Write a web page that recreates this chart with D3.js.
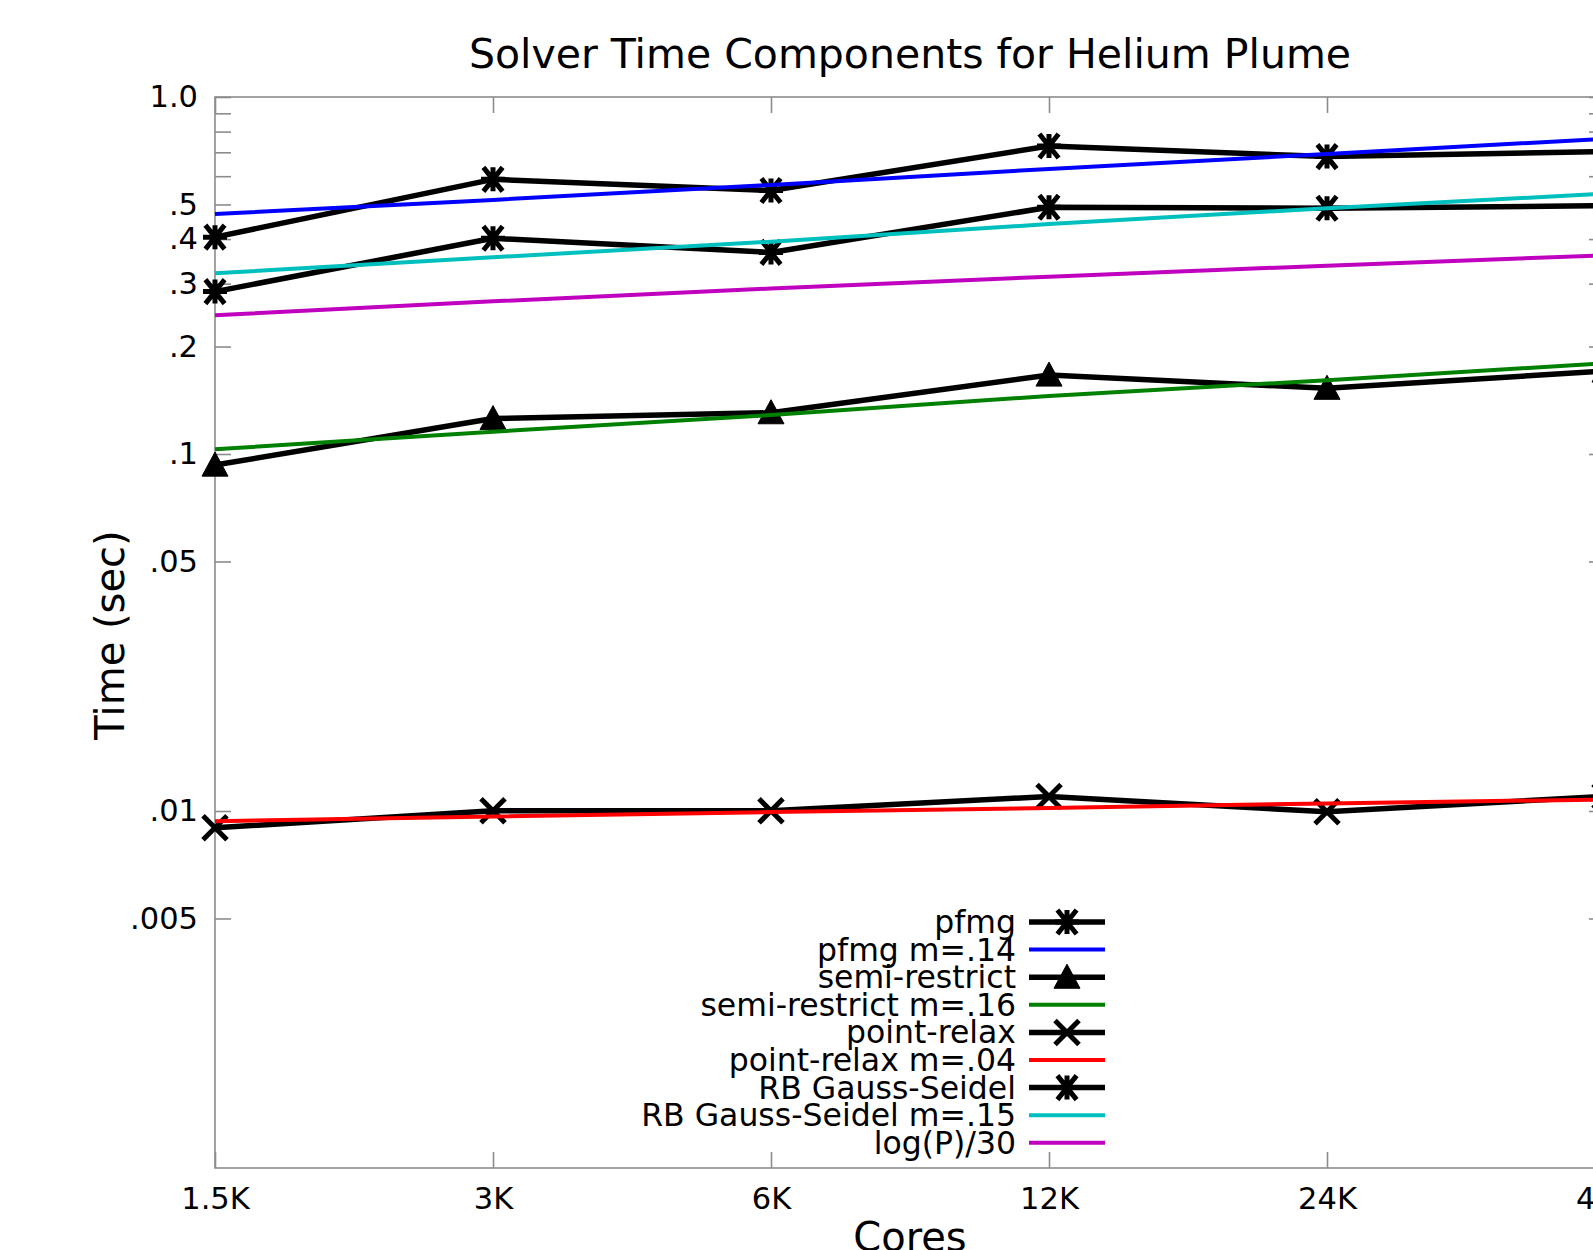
<!DOCTYPE html>
<html>
<head>
<meta charset="utf-8">
<script src="https://cdn.jsdelivr.net/npm/d3@7"></script>
<style>
  html, body { margin: 0; padding: 0; background: #fff; }
  svg { display: block; }
  text { font-family: "DejaVu Sans", sans-serif; fill: #000; }
</style>
</head>
<body>
<svg id="chart" width="1593" height="1250"></svg>
<script>
// ---- data ----
const cores = [1536, 3072, 6144, 12288, 24576, 49152];
const coreLabels = ["1.5K", "3K", "6K", "12K", "24K", "48K"];

const pfmg      = [0.405, 0.588, 0.547, 0.729, 0.681, 0.704];
const pfmgFit   = [0.470, 0.515, 0.567, 0.629, 0.692, 0.764];
const semi      = [0.0931, 0.1257, 0.1305, 0.1664, 0.1528, 0.1708];
const semiFit   = [0.1031, 0.1155, 0.1286, 0.1454, 0.1610, 0.1795];
const point     = [0.00897, 0.01001, 0.01001, 0.01098, 0.00995, 0.01100];
const pointFit  = [0.00936, 0.00965, 0.00993, 0.01020, 0.01050, 0.01077];
const rbgs      = [0.285, 0.402, 0.367, 0.491, 0.488, 0.496];
const rbgsFit   = [0.3207, 0.3556, 0.3934, 0.4407, 0.488, 0.536];
const logP      = [0.2446, 0.2677, 0.2908, 0.3139, 0.3370, 0.3601];

const yTickValues = [1, 0.5, 0.4, 0.3, 0.2, 0.1, 0.05, 0.01, 0.005];
const yTickLabels = ["1.0", ".5", ".4", ".3", ".2", ".1", ".05", ".01", ".005"];
const yMinorTicks = [0.9, 0.8, 0.7, 0.6];

const seriesNames = ["pfmg", "pfmg m=.14", "semi-restrict", "semi-restrict m=.16",
  "point-relax", "point-relax m=.04", "RB Gauss-Seidel", "RB Gauss-Seidel m=.15", "log(P)/30"];
const seriesValues = [pfmg, pfmgFit, semi, semiFit, point, pointFit, rbgs, rbgsFit, logP];
const seriesColors = ["#000000", "#0000ff", "#000000", "#008000", "#000000", "#ff0000", "#000000", "#00bfbf", "#bf00bf"];
const seriesMarkers = ["star", null, "tri", null, "cross", null, "star", null, null];

(function () {
// ---- layout ----
const pLeft = 215, pRight = 1605, pTop = 97, pBottom = 1168;
const svg = d3.select("#chart");

const x = d3.scaleLog().base(2).domain([1536, 49152]).range([pLeft, pRight]);
const y = d3.scaleLog().domain([0.001, 1]).range([pBottom, pTop]);

const axisColor = "#8c8c8c";
const tickLen = 16;

// border
svg.append("rect").attr("x", pLeft).attr("y", pTop)
  .attr("width", pRight - pLeft).attr("height", pBottom - pTop)
  .attr("fill", "none").attr("stroke", axisColor).attr("stroke-width", 1.6);

// axes
const yAxisL = d3.axisLeft(y).tickValues(yTickValues.concat(yMinorTicks))
  .tickSizeInner(-tickLen).tickSizeOuter(0)
  .tickFormat(d => { const i = yTickValues.indexOf(d); return i >= 0 ? yTickLabels[i] : ""; });
const gyl = svg.append("g").attr("transform", `translate(${pLeft},0)`).call(yAxisL);
gyl.select(".domain").remove();
gyl.selectAll("line").attr("stroke", axisColor).attr("stroke-width", 1.6);
gyl.selectAll("text").attr("x", -17).attr("font-size", 30.5).attr("font-family", "DejaVu Sans");

const yAxisR = d3.axisRight(y).tickValues(yTickValues.concat(yMinorTicks))
  .tickSizeInner(-tickLen).tickSizeOuter(0).tickFormat("");
const gyr = svg.append("g").attr("transform", `translate(${pRight},0)`).call(yAxisR);
gyr.select(".domain").remove();
gyr.selectAll("line").attr("stroke", axisColor).attr("stroke-width", 1.6);

const xAxisB = d3.axisBottom(x).tickValues(cores).tickSizeInner(-tickLen).tickSizeOuter(0)
  .tickFormat((d, i) => coreLabels[i]);
const gxb = svg.append("g").attr("transform", `translate(0,${pBottom})`).call(xAxisB);
gxb.select(".domain").remove();
gxb.selectAll("line").attr("stroke", axisColor).attr("stroke-width", 1.6);
gxb.selectAll("text").attr("y", 41).attr("dy", 0).attr("font-size", 30.5).attr("font-family", "DejaVu Sans");

const xAxisT = d3.axisTop(x).tickValues(cores).tickSizeInner(-tickLen).tickSizeOuter(0).tickFormat("");
const gxt = svg.append("g").attr("transform", `translate(0,${pTop})`).call(xAxisT);
gxt.select(".domain").remove();
gxt.selectAll("line").attr("stroke", axisColor).attr("stroke-width", 1.6);

// titles
svg.append("text").attr("x", (pLeft + pRight) / 2).attr("y", 68)
  .attr("text-anchor", "middle").attr("font-size", 41).text("Solver Time Components for Helium Plume");
svg.append("text").attr("transform", "translate(124,635) rotate(-90)")
  .attr("text-anchor", "middle").attr("font-size", 40).text("Time (sec)");
svg.append("text").attr("x", (pLeft + pRight) / 2).attr("y", 1251)
  .attr("text-anchor", "middle").attr("font-size", 40).text("Cores");

// markers
function drawMarker(g, type, cx, cy) {
  const s = 12;
  if (type === "star") {
    g.append("path")
      .attr("d", `M${cx - s},${cy}L${cx + s},${cy}M${cx},${cy - s}L${cx},${cy + s}` +
                 `M${cx - s * 0.8},${cy - s}L${cx + s * 0.8},${cy + s}M${cx - s * 0.8},${cy + s}L${cx + s * 0.8},${cy - s}`)
      .attr("stroke", "#000").attr("stroke-width", 5).attr("fill", "none");
  } else if (type === "cross") {
    g.append("path")
      .attr("d", `M${cx - s},${cy - s}L${cx + s},${cy + s}M${cx - s},${cy + s}L${cx + s},${cy - s}`)
      .attr("stroke", "#000").attr("stroke-width", 5).attr("fill", "none");
  } else if (type === "tri") {
    const h = 13;
    g.append("path")
      .attr("d", `M${cx},${cy - h}L${cx + h},${cy + h * 0.85}L${cx - h},${cy + h * 0.85}Z`)
      .attr("fill", "#000").attr("stroke", "#000").attr("stroke-width", 1);
  }
}

const line = d3.line().x((d, i) => x(cores[i])).y(d => y(d));
const plot = svg.append("g");
seriesValues.forEach((vals, k) => {
  const isData = seriesMarkers[k] !== null;
  plot.append("path").datum(vals).attr("d", line)
    .attr("fill", "none").attr("stroke", seriesColors[k])
    .attr("stroke-width", isData ? 5.5 : 4).attr("stroke-linejoin", "round");
  if (isData) {
    vals.forEach((v, i) => drawMarker(plot, seriesMarkers[k], x(cores[i]), y(v)));
  }
});

// legend
const legTextX = 1016, legLineX1 = 1029, legLineX2 = 1105, legY0 = 922, legDy = 27.6;
const leg = svg.append("g");
seriesNames.forEach((name, k) => {
  const yy = legY0 + k * legDy;
  leg.append("text").attr("x", legTextX).attr("y", yy).attr("dy", "0.35em")
    .attr("text-anchor", "end").attr("font-size", 31.5).text(name);
  leg.append("line").attr("x1", legLineX1).attr("x2", legLineX2).attr("y1", yy).attr("y2", yy)
    .attr("stroke", seriesColors[k]).attr("stroke-width", seriesMarkers[k] ? 5.5 : 4);
  if (seriesMarkers[k]) drawMarker(leg, seriesMarkers[k], (legLineX1 + legLineX2) / 2, yy);
});
})();
</script>
</body>
</html>
